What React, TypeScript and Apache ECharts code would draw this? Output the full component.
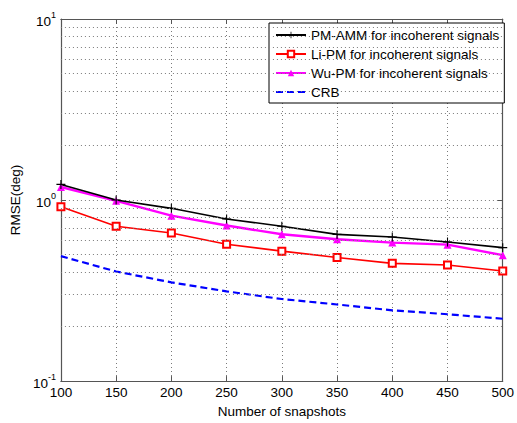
import React, { useEffect, useRef } from "react";
import * as echarts from "echarts";

const snapshots = [100, 150, 200, 250, 300, 350, 400, 450, 500];
const pmAmm = [1.22, 1.0, 0.9, 0.786, 0.717, 0.646, 0.625, 0.587, 0.546];
const liPm = [0.918, 0.717, 0.657, 0.57, 0.522, 0.482, 0.447, 0.438, 0.406];
const wuPm = [1.18, 0.99, 0.82, 0.723, 0.647, 0.607, 0.582, 0.567, 0.496];
const crb = [0.49, 0.403, 0.351, 0.313, 0.284, 0.265, 0.246, 0.234, 0.221];
const minorGridValues = [0.2, 0.3, 0.4, 0.5, 0.6, 0.7, 0.8, 0.9, 2, 3, 4, 5, 6, 7, 8, 9];

const FONT = "Liberation Sans, Arial, sans-serif";
const FS = 13.5;

const pair = (vals: number[]) => snapshots.map((x, i) => [x, vals[i]]);

export default function App() {
  const ref = useRef<HTMLDivElement>(null);
  useEffect(() => {
    if (!ref.current) return;
    const chart = echarts.init(ref.current, undefined, { renderer: "svg" });
    const gridDot = { color: "#7a7a7a", width: 1, type: [1, 3] as any };
    const axisCommon = {
      axisLine: { show: true, lineStyle: { color: "#555", width: 1.2 } },
      axisTick: { show: true, inside: true, length: 5, lineStyle: { color: "#555" } },
    };
    chart.setOption({
      animation: false,
      backgroundColor: "#fff",
      textStyle: { fontFamily: FONT },
      grid: { left: 57, right: 12, top: 19, bottom: 37, containLabel: false },
      xAxis: [
        {
          type: "value",
          min: 100,
          max: 500,
          interval: 50,
          position: "bottom",
          name: "Number of snapshots",
          nameLocation: "middle",
          nameGap: 20,
          nameTextStyle: { fontSize: FS, color: "#000", fontFamily: FONT },
          ...axisCommon,
          axisLabel: { fontSize: FS, color: "#000", margin: 4, fontFamily: FONT },
          splitLine: { show: true, lineStyle: gridDot },
        },
        {
          type: "value",
          min: 100,
          max: 500,
          interval: 50,
          position: "top",
          ...axisCommon,
          axisLabel: { show: false },
          splitLine: { show: false },
        },
      ],
      yAxis: [
        {
          type: "log",
          logBase: 10,
          min: 0.1,
          max: 10,
          position: "left",
          name: "RMSE(deg)",
          nameLocation: "middle",
          nameGap: 27,
          nameTextStyle: { fontSize: FS, color: "#000", fontFamily: FONT },
          ...axisCommon,
          axisLabel: {
            margin: 5,
            formatter: (v: number) => {
              const e = Math.round(Math.log10(v));
              return `{b|10}{s|${e}}`;
            },
            rich: {
              b: { fontSize: FS, color: "#000", fontFamily: FONT, lineHeight: 18, verticalAlign: "bottom" },
              s: { fontSize: 9, color: "#000", fontFamily: FONT, lineHeight: 10, verticalAlign: "top" },
            },
          },
          splitLine: { show: true, lineStyle: gridDot },
        },
        {
          type: "log",
          logBase: 10,
          min: 0.1,
          max: 10,
          position: "right",
          ...axisCommon,
          axisLabel: { show: false },
          splitLine: { show: false },
        },
      ],
      legend: {
        orient: "vertical",
        left: 269,
        top: 23,
        padding: [5, 5, 4, 6],
        itemGap: 5,
        itemWidth: 30,
        itemHeight: 8,
        borderColor: "#000",
        borderWidth: 1,
        borderRadius: 0,
        backgroundColor: "#fff",
        textStyle: { fontSize: FS, color: "#000", fontFamily: FONT },
        data: [
          "PM-AMM for incoherent signals",
          "Li-PM for incoherent signals",
          "Wu-PM for incoherent signals",
          { name: "CRB", itemStyle: { opacity: 0, color: "transparent", borderWidth: 0 } },
        ],
      },
      series: [
        {
          type: "line",
          name: "_grid",
          data: [],
          silent: true,
          markLine: {
            silent: true,
            symbol: ["none", "none"],
            label: { show: false },
            lineStyle: gridDot,
            data: minorGridValues.map((v) => ({ yAxis: v })),
          },
        },
        {
          type: "line",
          name: "CRB",
          data: pair(crb),
          showSymbol: false,
          symbol: "none",
          color: "#0000ff",
          lineStyle: { color: "#0000ff", width: 2.2, type: [7, 4] },
        },
        {
          type: "line",
          name: "Li-PM for incoherent signals",
          data: pair(liPm),
          symbol: "emptyRect",
          symbolSize: 7,
          color: "#ff0000",
          lineStyle: { color: "#ff0000", width: 1.6 },
          itemStyle: { color: "#ff0000", borderColor: "#ff0000", borderWidth: 1.2 },
        },
        {
          type: "line",
          name: "Wu-PM for incoherent signals",
          data: pair(wuPm),
          symbol: "triangle",
          symbolSize: 8,
          color: "#ff00ff",
          lineStyle: { color: "#ff00ff", width: 2.4 },
          itemStyle: { color: "#ff00ff" },
        },
        {
          type: "line",
          name: "PM-AMM for incoherent signals",
          data: pair(pmAmm),
          symbol: "path://M4.4,0H5.6V10H4.4Z M0,4.4H10V5.6H0Z",
          symbolSize: 9,
          color: "#000",
          lineStyle: { color: "#000", width: 1.6 },
          itemStyle: { color: "#000" },
        },
      ],
    });
    return () => chart.dispose();
  }, []);
  return (
    <div
      ref={ref}
      style={{ position: "fixed", left: 0, top: 0, width: 517, height: 423, background: "#fff" }}
    />
  );
}
